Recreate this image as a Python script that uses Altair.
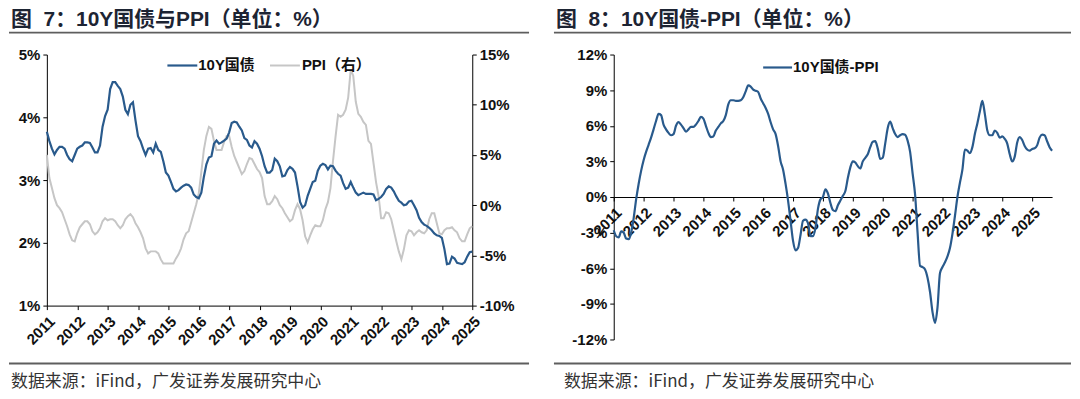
import altair as alt
import pandas as pd

# ---------------- data ----------------
X_TICKS = list(range(2011, 2026))

# Figure 7: 10Y CGB yield (%), monthly points, first point drawn at the "2011" tick
TEN_Y_LEFT = [
    3.77, 3.62, 3.50, 3.41, 3.48, 3.53, 3.53, 3.50, 3.40, 3.33, 3.30, 3.40,
    3.50, 3.53, 3.55, 3.60, 3.60, 3.59, 3.52, 3.44, 3.44, 3.55, 3.85, 4.02,
    4.12, 4.45, 4.56, 4.56, 4.50, 4.45, 4.33, 4.12, 4.05, 4.20, 4.24, 3.95,
    3.70, 3.62, 3.50, 3.40, 3.50, 3.51, 3.44, 3.58, 3.48, 3.45, 3.30, 3.12,
    3.07, 2.97, 2.86, 2.82, 2.84, 2.88, 2.91, 2.93, 2.92, 2.88, 2.77, 2.73,
    2.71, 2.80, 3.05, 3.25, 3.36, 3.38, 3.58, 3.63, 3.58, 3.60, 3.63, 3.66,
    3.76, 3.91, 3.93, 3.92, 3.85, 3.79, 3.67, 3.64, 3.55, 3.52, 3.62, 3.58,
    3.50, 3.38, 3.22, 3.12, 3.12, 3.16, 3.34, 3.30, 3.22, 3.06, 3.07, 3.16,
    3.21, 3.18, 3.12, 2.90, 2.65, 2.56, 2.60, 2.75, 2.86, 2.97, 2.99, 3.15,
    3.23, 3.26, 3.24, 3.17, 3.23, 3.22, 3.15, 3.10, 3.07, 2.95, 2.86, 2.88,
    2.97, 2.88, 2.80, 2.76, 2.78, 2.80, 2.78, 2.78, 2.78, 2.77, 2.68, 2.70,
    2.73, 2.78, 2.86, 2.90, 2.88, 2.82, 2.74, 2.67, 2.64, 2.60, 2.61, 2.66,
    2.67, 2.60, 2.52, 2.40, 2.33, 2.29, 2.27, 2.24, 2.20, 2.15, 2.12, 2.11,
    2.08, 1.90, 1.66, 1.67, 1.78, 1.75, 1.68, 1.67, 1.66, 1.69, 1.78, 1.85,
    1.86,
]

# Figure 7: PPI YoY (%), right axis, same monthly points
PPI_LEFT = [
    5.0, 2.7, 1.7,
    0.7, 0.0, -0.3, -0.7, -1.4, -2.1, -2.9, -3.5, -3.6, -2.8, -2.2, -1.9,
    -1.6, -1.6, -1.9, -2.6, -2.9, -2.7, -2.3, -1.6, -1.3, -1.5, -1.4, -1.4,
    -1.6, -2.0, -2.3, -2.0, -1.4, -1.1, -0.9, -1.2, -1.8, -2.2, -2.7, -3.3,
    -4.3, -4.8, -4.6, -4.6, -4.6, -4.8, -5.4, -5.8, -5.8, -5.8, -5.8, -5.8,
    -5.3, -4.9, -4.3, -3.4, -2.8, -2.6, -1.7, -0.8, 0.1, 1.2, 3.3, 5.5,
    6.9, 7.8, 7.6, 6.4, 5.5, 5.5, 5.5, 6.3, 6.9, 6.9, 5.8, 4.9,
    4.3, 3.7, 3.1, 3.4, 4.1, 4.7, 4.6, 4.1, 3.6, 3.3, 2.7, 0.9,
    0.1, 0.1, 0.4, 0.9, 0.6, 0.0, -0.3, -0.8, -1.2, -1.6, -1.4, -0.5,
    0.1, -0.4, -1.5, -3.1, -3.7, -3.0, -2.4, -2.0, -2.1, -2.1, -1.5, -0.4,
    0.3, 1.7, 4.4, 6.8, 9.0, 8.8, 9.0, 9.5, 10.7, 13.5, 12.9, 10.3,
    9.1, 8.8, 8.3, 8.0, 6.4, 6.1, 4.2, 2.3, 0.9, -1.3, -1.3, -0.7,
    -0.8, -1.4, -2.5, -3.6, -4.6, -5.4, -4.4, -3.0, -2.5, -2.6, -3.0, -2.7,
    -2.5, -2.7, -2.8, -2.5, -1.4, -0.8, -0.8, -1.8, -2.8, -2.9, -2.5, -2.3,
    -2.3, -2.2, -2.5, -2.7, -3.3, -3.6, -3.6, -2.9, -2.3, -2.1,
]

# Figure 8: 10Y CGB - PPI (%), monthly from Jan 2011
SPREAD = [
    -2.8, -3.3, -3.4, -2.9, -3.0, -3.5, -3.55, -3.0, -1.8, -0.2, 1.1, 2.2,
    3.1, 3.8, 4.4, 5.0, 5.7, 6.4, 7.0, 6.9, 6.1, 5.7, 5.4, 5.2,
    5.3, 6.0, 6.3, 6.1, 5.8, 5.5, 5.7, 5.9, 5.9, 6.1, 6.4, 6.75,
    6.6, 6.0, 5.4, 5.05, 5.1, 5.6, 5.9, 6.2, 6.4, 6.9, 7.8, 8.15,
    8.15, 8.1, 8.1, 8.15, 8.4, 8.9, 9.4, 9.3, 9.05, 8.95, 8.85, 8.3,
    7.9, 7.5, 7.0, 6.3, 5.7, 5.3, 4.3, 3.0, 2.3, 1.1, -0.3, -2.0,
    -3.7, -4.5, -4.3, -3.2, -2.0, -1.9, -2.2, -3.3, -3.3, -2.6, -1.0, -0.2,
    0.0, 0.65, 0.3, -0.5, -1.1, -1.2, -0.7, -0.3, 0.1, 0.5, 1.6, 2.5,
    3.0, 2.9, 2.6, 2.4, 3.0, 3.3, 3.6, 4.2, 4.65, 4.7, 4.1, 3.2,
    3.3, 4.5, 5.8, 6.35, 5.8, 5.3, 5.05, 5.2, 5.3, 5.25, 4.75, 3.8,
    2.0, 0.2, -3.0, -5.8, -5.9, -6.1, -6.8, -8.0, -9.7, -10.6, -9.3, -6.4,
    -5.9, -5.5, -5.0, -4.3, -3.1, -1.6, 0.0, 1.2, 2.3, 4.0, 3.9, 3.7,
    4.2, 5.3, 6.2, 7.2, 8.1, 7.0, 5.6, 5.2, 5.2, 5.6, 5.4, 5.0,
    5.1, 4.9, 4.5, 3.6, 3.0, 3.4, 4.6, 5.05, 4.8, 4.3, 4.0, 3.9,
    4.05, 4.1, 4.35, 5.0, 5.25, 5.2, 4.7, 4.2, 3.9,
]

LEFT_TITLE = "图\u00a0\u00a07：10Y国债与PPI（单位：%）"
RIGHT_TITLE = "图\u00a0\u00a08：10Y国债-PPI（单位：%）"
SOURCE = "数据来源：iFind，广发证券发展研究中心"
LEG_10Y = "10Y国债"
LEG_PPI = "PPI（右）"
LEG_SPREAD = "10Y国债-PPI"

# ---------------- styling ----------------
BLUE = "#295A8C"
GRAY = "#C6C6C6"
FONT = "Liberation Sans, Arial, Noto Sans CJK SC"
CJK = "Noto Sans CJK SC"
SEP = "#5E5E5E"

left_df = pd.DataFrame({
    "t": [2011 + i / 12 for i in range(len(TEN_Y_LEFT))],
    "y10": TEN_Y_LEFT,
    "ppi": PPI_LEFT,
})
right_df = pd.DataFrame({
    "t": [2011 + i / 12 for i in range(len(SPREAD))],
    "spread": SPREAD,
})
one = pd.DataFrame({"k": [0]})

LW, LH = 427, 252
RW, RH = 440, 286


def axis(**kw):
    base = dict(title=None, grid=False, domainColor="#000", tickColor="#000",
                domainWidth=1, tickWidth=1, tickSize=4,
                labelFont=FONT, labelFontSize=15, labelFontWeight="bold",
                labelColor="#111", labelOverlap=False)
    base.update(kw)
    return alt.Axis(**base)


def rule(x1, x2, y, color, width):
    return alt.Chart(one).mark_rule(color=color, strokeWidth=width).encode(
        x=alt.value(x1), x2=alt.value(x2), y=alt.value(y))


def label(x, y, s, size, weight, color, font=FONT):
    return alt.Chart(one).mark_text(
        align="left", baseline="middle", fontSize=size, fontWeight=weight,
        color=color, font=font, text=s).encode(x=alt.value(x), y=alt.value(y))


# ---------------- left panel ----------------
xL = alt.X("t:Q", scale=alt.Scale(domain=[2011, 2025], nice=False, zero=False),
           axis=axis(values=X_TICKS, format="d", labelAngle=-45, labelPadding=4))

gray_line = alt.Chart(left_df).mark_line(color=GRAY, strokeWidth=2).encode(
    x=xL,
    y=alt.Y("ppi:Q", scale=alt.Scale(domain=[-10, 15], nice=False, zero=False),
            axis=axis(orient="right", values=[-10, -5, 0, 5, 10, 15],
                      labelExpr="datum.value + '%'", labelPadding=3)))
blue_line = alt.Chart(left_df).mark_line(color=BLUE, strokeWidth=2.2).encode(
    x=xL,
    y=alt.Y("y10:Q", scale=alt.Scale(domain=[1, 5], nice=False, zero=False),
            axis=axis(orient="left", values=[1, 2, 3, 4, 5],
                      labelExpr="datum.value + '%'", labelPadding=3)))

left = alt.layer(
    gray_line, blue_line,
    rule(121, 151, 11, BLUE, 2.2),
    label(152, 11, LEG_10Y, 15, "bold", "#111"),
    rule(224, 254, 11, GRAY, 2),
    label(256, 11, LEG_PPI, 15, "bold", "#111"),
    label(-36, -34.5, LEFT_TITLE, 21, "bold", "#1d2433"),
    rule(-38, 484, -22, SEP, 2),
    rule(-38, 484, 310, SEP, 2),
    label(-36, 329, SOURCE, 17, "normal", "#333", CJK),
).resolve_scale(y="independent").properties(width=LW, height=LH)

# ---------------- right panel ----------------
x_end = float(right_df["t"].max())
spread_line = alt.Chart(right_df).mark_line(
    color=BLUE, strokeWidth=2.2, interpolate="monotone").encode(
    x=alt.X("t:Q", scale=alt.Scale(domain=[2011, x_end], nice=False, zero=False),
            axis=axis(values=X_TICKS, format="d", labelAngle=-45, labelPadding=4,
                      offset=-RH / 2)),
    y=alt.Y("spread:Q", scale=alt.Scale(domain=[-12, 12], nice=False, zero=False),
            axis=axis(values=list(range(-12, 13, 3)),
                      labelExpr="datum.value + '%'", labelPadding=3)))

right = alt.layer(
    spread_line,
    rule(150, 179, 13, BLUE, 2.2),
    label(180, 13, LEG_SPREAD, 15, "bold", "#111"),
    label(-58, -34.5, RIGHT_TITLE, 21, "bold", "#1d2433"),
    rule(-60, 459, -22, SEP, 2),
    rule(-60, 459, 310, SEP, 2),
    label(-50, 329, SOURCE, 17, "normal", "#333", CJK),
).properties(width=RW, height=RH)

chart = alt.hconcat(left, right, spacing=23).properties(
    padding=0, background="white"
).configure_view(stroke=None)

chart.save("out.html", embed_options={"renderer": "svg", "actions": False})
